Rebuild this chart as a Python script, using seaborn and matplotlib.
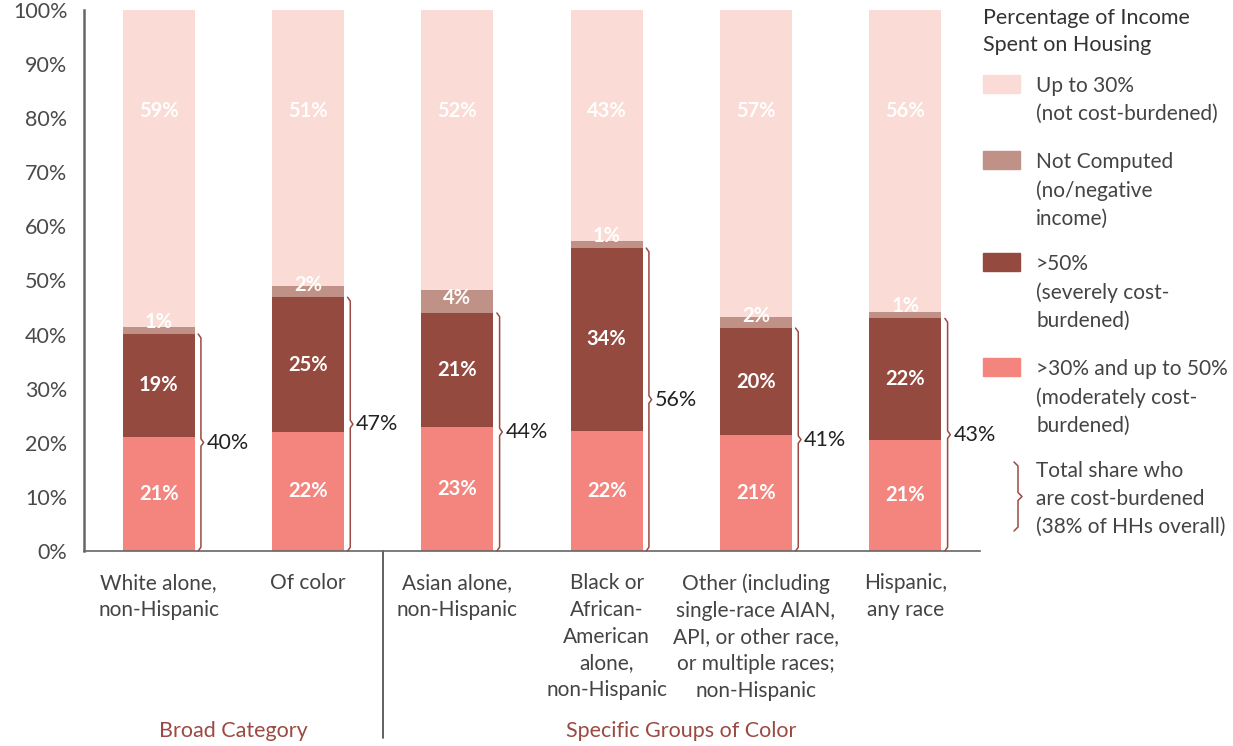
import numpy as np
import pandas as pd
import matplotlib.pyplot as plt
from matplotlib.patches import Rectangle
from matplotlib.lines import Line2D
import seaborn as sns

# data (% of households)
groups = ["White alone,\nnon-Hispanic", "Of color", "Asian alone,\nnon-Hispanic",
          "Black or\nAfrican-\nAmerican\nalone,\nnon-Hispanic",
          "Other (including\nsingle-race AIAN,\nAPI, or other race,\nor multiple races;\nnon-Hispanic",
          "Hispanic,\nany race"]
moderate = [21.1, 22.0, 22.9, 22.2, 21.4, 20.6]
severe = [19.0, 24.9, 21.1, 33.8, 19.8, 22.4]
not_computed = [1.3, 2.1, 4.2, 1.3, 2.1, 1.2]
up_to_30 = [58.6, 51.0, 51.8, 42.7, 56.7, 55.8]

group_names = ["Broad Category", "Specific Groups of Color"]
group_spans = [(0, 1), (2, 5)]

legend_title = "Percentage of Income\nSpent on Housing"
legend_labels = ["Up to 30%\n(not cost-burdened)",
                 "Not Computed\n(no/negative\nincome)",
                 ">50%\n(severely cost-\nburdened)",
                 ">30% and up to 50%\n(moderately cost-\nburdened)"]
brace_label = "Total share who\nare cost-burdened\n(38% of HHs overall)"

c_up = "#FADBD5"
c_nc = "#C09186"
c_sev = "#954A40"
c_mod = "#F3857E"
c_red = "#9B4A42"

sns.set_style("white")
plt.rcParams['font.family'] = ['Lato', 'DejaVu Sans']

df = pd.DataFrame({"group": groups, "moderate": moderate, "severe": severe,
                   "nc": not_computed, "up": up_to_30})
df["l1"] = df["moderate"]
df["l2"] = df["l1"] + df["severe"]
df["l3"] = df["l2"] + df["nc"]
df["l4"] = df["l3"] + df["up"]

W, H = 1233, 746
fig = plt.figure(figsize=(W / 100, H / 100), dpi=100)
ax = fig.add_axes([84 / W, 1 - 551 / H, 896 / W, 541 / H])

bw = 0.48
for col, color in [("l4", c_up), ("l3", c_nc), ("l2", c_sev), ("l1", c_mod)]:
    sns.barplot(data=df, x="group", y=col, color=color, width=bw, saturation=1,
                errorbar=None, ax=ax, zorder=2, linewidth=0)

ax.set_xlim(-0.5, 5.5)
ax.set_ylim(0, 100)
ax.set_xlabel("")
ax.set_ylabel("")
ax.set_yticks(range(0, 101, 10))
ax.set_yticklabels([f"{v}%" for v in range(0, 101, 10)], fontsize=15.5, color="#4a4a4a")
ax.tick_params(axis="y", direction="in", length=16, width=1.3, color="#555", pad=12)
ax.tick_params(axis="x", length=0, pad=16)
ax.set_xticks(range(len(groups)))
ax.set_xticklabels(groups, fontsize=15, color="#444", linespacing=1.42, va="top")
for s in ["top", "right"]:
    ax.spines[s].set_visible(False)
ax.spines["left"].set_color("#666")
ax.spines["left"].set_linewidth(1.8)
ax.spines["bottom"].set_color("#666")
ax.spines["bottom"].set_linewidth(1.2)

# segment labels
for i, r in df.iterrows():
    kw = dict(ha="center", va="center", color="white", fontsize=14.5, fontweight="bold")
    ax.text(i, r["l1"] / 2, f"{round(r['moderate'])}%", **kw)
    ax.text(i, (r["l1"] + r["l2"]) / 2, f"{round(r['severe'])}%", **kw)
    ax.text(i, r["l2"] + max(r["nc"] / 2 + 0.7, 2.3), f"{round(r['nc'])}%", **kw)
    ax.text(i, 81.3, f"{round(r['up'])}%", **kw)

    # brace for total cost-burdened share
    x0 = i + bw / 2 + 0.025
    w = 0.018
    h = 0.7
    top, mid = r["l2"], r["l2"] / 2
    bx = [x0, x0 + w, x0 + w, x0 + 2 * w, x0 + w, x0 + w, x0]
    by = [top, top - h, mid + h, mid, mid - h, h, 0]
    ax.plot(bx, by, color=c_red, lw=1.1, clip_on=False, zorder=3)
    ax.text(x0 + 2 * w + 0.022, mid, f"{round(r['l2'])}%", ha="left", va="center",
            fontsize=15.5, color="#222")

# group separator and group titles
sep = Line2D([1.5, 1.5], [0, -(738 - 551) / 541], transform=ax.get_xaxis_transform(),
             color="#555", lw=1.3, clip_on=False)
ax.add_line(sep)
for name, (a, b) in zip(group_names, group_spans):
    ax.text((a + b) / 2, -(731 - 551) / 541, name, transform=ax.get_xaxis_transform(),
            ha="center", va="center", fontsize=15.5, color=c_red)

# legend drawn by hand
fig.text(983 / W, 1 - 8 / H, legend_title, ha="left", va="top", fontsize=15.5,
         color="#333", linespacing=1.45)
patch_tops = [75, 151, 253, 358]
for top, lab, color in zip(patch_tops, legend_labels, [c_up, c_nc, c_sev, c_mod]):
    fig.patches.append(Rectangle((983 / W, 1 - (top + 18) / H), 37 / W, 18 / H,
                                 transform=fig.transFigure, color=color))
    fig.text(1036 / W, 1 - (top + 1) / H, lab, ha="left", va="top", fontsize=15,
             color="#444", linespacing=1.5)

lx, lw_ = 1014, 4
ltop, lbot = 462, 531
lmid = (ltop + lbot) / 2
bx = [lx, lx + lw_, lx + lw_, lx + 2 * lw_, lx + lw_, lx + lw_, lx]
by = [ltop, ltop + 4, lmid - 4, lmid, lmid + 4, lbot - 4, lbot]
fig.add_artist(Line2D([v / W for v in bx], [1 - v / H for v in by], color=c_red, lw=1.1))
fig.text(1036 / W, 1 - 461 / H, brace_label, ha="left", va="top", fontsize=15,
         color="#444", linespacing=1.5)

fig.savefig("out.png", dpi=100)
